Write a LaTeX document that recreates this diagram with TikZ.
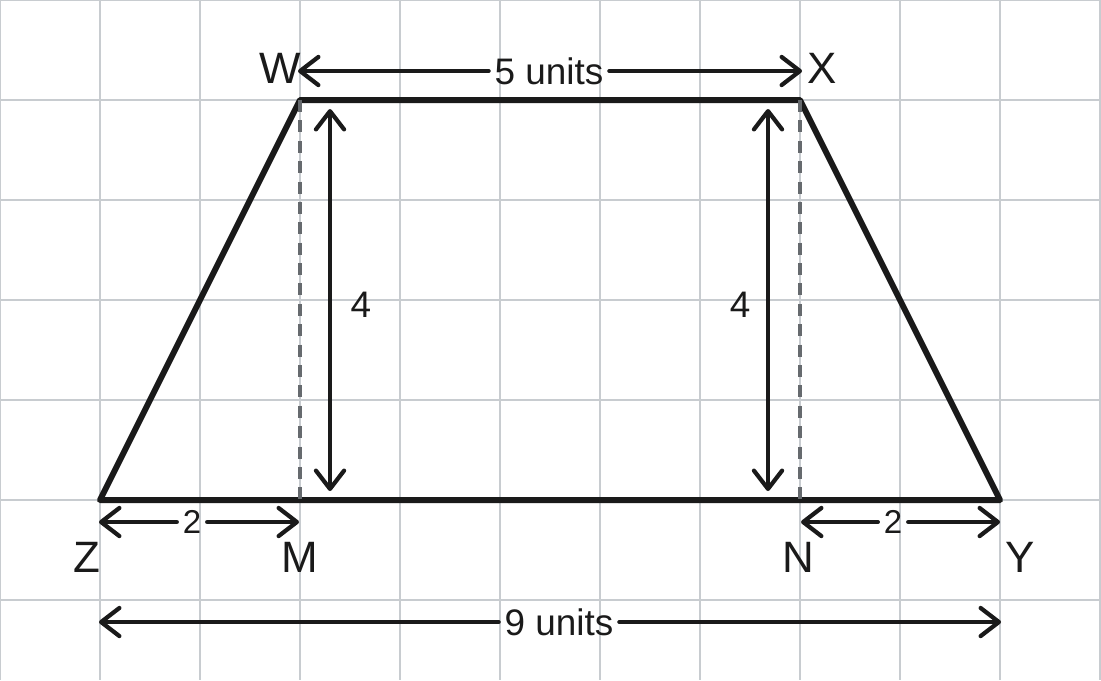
\documentclass[tikz,border=0pt]{standalone}
\usepackage{fontspec}
\setmainfont{Liberation Sans}
\usetikzlibrary{arrows.meta}
\definecolor{gridgray}{HTML}{C8CCD0}
\definecolor{ink}{HTML}{1A1A1A}
\definecolor{dashgray}{HTML}{666A6E}

\tikzset{
  >={Straight Barb[length=5.2pt,width=8pt,line cap=round,line join=round]},
  gridline/.style={gridgray, line width=0.6pt},
  edge/.style={ink, line width=1.7pt, line join=round, line cap=round},
  heightline/.style={dashgray, line width=0.9pt, dash pattern=on 3.4pt off 2.4pt},
  dim/.style={ink, line width=1.2pt, line cap=round},
  vertex/.style={ink, inner sep=0pt, font=\fontsize{12.5}{14}\selectfont},
  measure/.style={ink, inner sep=1.5pt, font=\fontsize{10.5}{12}\selectfont},
}

\begin{document}
\begin{tikzpicture}[x=1cm,y=-1cm]
  \useasboundingbox (0,0) rectangle (11.01,6.8);
  % grid
  \foreach \i in {0,...,11}
    \draw[gridline] (\i,0) -- (\i,6.8);
  \foreach \j in {0,...,6}
    \draw[gridline] (0,\j) -- (11.01,\j);

  % corners of the trapezoid
  \coordinate (W) at (3,1);
  \coordinate (X) at (8,1);
  \coordinate (Y) at (10,5);
  \coordinate (Z) at (1,5);
  \coordinate (M) at (3,5);
  \coordinate (N) at (8,5);

  \draw[edge] (Z) -- (W) -- (X) -- (Y) -- cycle;
  \draw[heightline] (W) -- (M);
  \draw[heightline] (X) -- (N);

  % vertex labels
  \node[vertex] (lW) at (2.80,0.68) {W};
  \node[vertex] (lX) at (8.22,0.68) {X};
  \node[vertex] (lZ) at (0.87,5.57) {Z};
  \node[vertex] (lM) at (3.00,5.57) {M};
  \node[vertex] (lN) at (7.98,5.57) {N};
  \node[vertex] (lY) at (10.20,5.57) {Y};

  % top width
  \coordinate (t1) at (2.98,0.71);
  \coordinate (t2) at (8.02,0.71);
  \node[measure] (l5) at (5.49,0.71) {5 units};
  \draw[dim,->] (l5.west) -- (t1);
  \draw[dim,->] (l5.east) -- (t2);

  % heights
  \coordinate (h1) at (3.30,1.09);
  \coordinate (h2) at (3.30,4.91);
  \coordinate (h3) at (7.68,1.09);
  \coordinate (h4) at (7.68,4.91);
  \draw[dim,<->] (h1) -- (h2);
  \draw[dim,<->] (h3) -- (h4);
  \node[measure] (l4a) at (3.61,3.05) {4};
  \node[measure] (l4b) at (7.40,3.05) {4};

  % bottom pieces
  \coordinate (b1) at (0.99,5.22);
  \coordinate (b2) at (2.99,5.22);
  \coordinate (b3) at (8.01,5.22);
  \coordinate (b4) at (10.00,5.22);
  \node[measure, font=\fontsize{9.4}{11}\selectfont] (l2a) at (1.92,5.22) {2};
  \node[measure, font=\fontsize{9.4}{11}\selectfont] (l2b) at (8.93,5.22) {2};
  \draw[dim,->] (l2a.west) -- (b1);
  \draw[dim,->] (l2a.east) -- (b2);
  \draw[dim,->] (l2b.west) -- (b3);
  \draw[dim,->] (l2b.east) -- (b4);

  % full base
  \coordinate (c1) at (0.99,6.22);
  \coordinate (c2) at (10.01,6.22);
  \node[measure] (l9) at (5.59,6.22) {9 units};
  \draw[dim,->] (l9.west) -- (c1);
  \draw[dim,->] (l9.east) -- (c2);
\end{tikzpicture}
\end{document}
